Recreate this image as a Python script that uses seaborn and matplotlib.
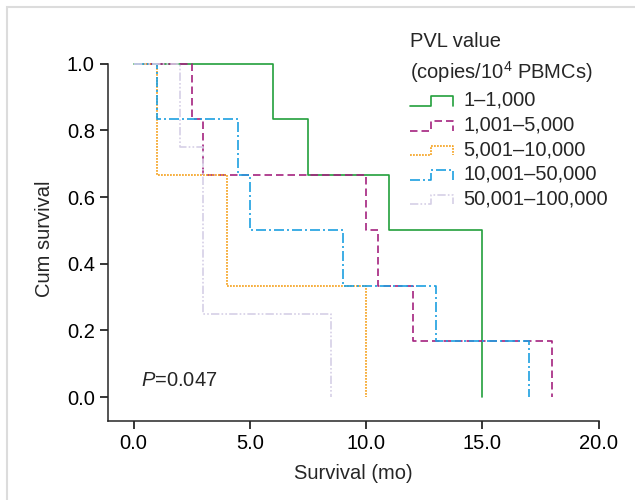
import numpy as np
import pandas as pd
import seaborn as sns
import matplotlib.pyplot as plt
from matplotlib.lines import Line2D
from matplotlib.legend_handler import HandlerBase
from matplotlib.patches import Rectangle

# survival curves (time in months, cum survival after each event)
groups = ['1–1,000', '1,001–5,000', '5,001–10,000', '10,001–50,000', '50,001–100,000']
t_g1 = [0, 6, 7.5, 11, 15]
s_g1 = [1.0, 0.833, 0.667, 0.5, 0.0]
t_g2 = [0, 2.5, 3, 10, 10.5, 12, 18]
s_g2 = [1.0, 0.833, 0.667, 0.5, 0.333, 0.167, 0.0]
t_g3 = [0, 1, 4, 10]
s_g3 = [1.0, 0.667, 0.333, 0.0]
t_g4 = [0, 1, 4.5, 5, 9, 13, 17]
s_g4 = [1.0, 0.833, 0.667, 0.5, 0.333, 0.167, 0.0]
t_g5 = [0, 2, 3, 8.5]
s_g5 = [1.0, 0.75, 0.25, 0.0]
p_text = '$P$=0.047'

colors = ['#23a03c', '#a4227f', '#f5a21f', '#1c9fe0', '#d6cfe6']
dashes = ['', (4.5, 2.4), (1.1, 0.7), (6, 1.8, 1.2, 1.8), (5, 1.3, 1, 1.3, 1, 1.3)]

times = [t_g1, t_g2, t_g3, t_g4, t_g5]
survs = [s_g1, s_g2, s_g3, s_g4, s_g5]
df = pd.concat([pd.DataFrame({'time': t, 'surv': s, 'group': g})
                for g, t, s in zip(groups, times, survs)], ignore_index=True)

sns.set_style('ticks')
plt.rcParams['font.family'] = ['Liberation Sans', 'DejaVu Sans']
plt.rcParams['mathtext.fontset'] = 'custom'
plt.rcParams['mathtext.rm'] = 'Liberation Sans'
plt.rcParams['mathtext.it'] = 'Liberation Sans:italic'
FS = 14.5


class StepHandler(HandlerBase):
    def create_artists(self, legend, orig_handle, xdescent, ydescent,
                       width, height, fontsize, trans):
        x0, y0 = -xdescent, -ydescent
        h = height * 0.68
        xs = [x0, x0 + 0.5 * width, x0 + 0.5 * width, x0 + width, x0 + width]
        ys = [y0, y0, y0 + h, y0 + h, y0]
        ln = Line2D(xs, ys)
        self.update_prop(ln, orig_handle, legend)
        ln.set_transform(trans)
        return [ln]


fig = plt.figure(figsize=(6.35, 5), dpi=100)
ax = fig.add_axes([0.170, 0.159, 0.773, 0.727])

sns.lineplot(data=df, x='time', y='surv', hue='group', style='group',
             hue_order=groups, style_order=groups,
             palette=dict(zip(groups, colors)), dashes=dict(zip(groups, dashes)),
             estimator=None, sort=False, drawstyle='steps-post',
             linewidth=1.2, legend=False, ax=ax)
for ln in ax.get_lines():
    ln.set_clip_on(False)

ax.set_xlim(-1.1, 20)
ax.set_ylim(-0.07, 1.02)
ax.set_xticks([0, 5, 10, 15, 20])
ax.set_xticklabels(['0.0', '5.0', '10.0', '15.0', '20.0'])
ax.set_yticks([0, 0.2, 0.4, 0.6, 0.8, 1.0])
ax.set_yticklabels(['0.0', '0.2', '0.4', '0.6', '0.8', '1.0'])
ax.spines['left'].set_bounds(-0.07, 1.0)
ax.spines['right'].set_visible(False)
ax.spines['top'].set_visible(False)
for sp in ['left', 'bottom']:
    ax.spines[sp].set_linewidth(1.1)
ax.tick_params(direction='out', length=5.5, width=1.1, labelsize=FS, pad=4,
               colors='black')
ax.set_xlabel('Survival (mo)', fontsize=FS, labelpad=8)
ax.set_ylabel('Cum survival', fontsize=FS, labelpad=9)

ax.text(0.3, 0.05, p_text, fontsize=FS, va='center', ha='left')

handles = ax.get_lines()[:len(groups)]
leg = ax.legend(handles, groups, handler_map={Line2D: StepHandler()},
                title='PVL value\n(copies/10$^4$ PBMCs)', fontsize=FS,
                title_fontsize=FS, frameon=False, loc='upper left',
                bbox_to_anchor=(0.616, 1.0685), handlelength=2.1,
                handletextpad=0.55, labelspacing=0.28, borderaxespad=0,
                borderpad=0)
leg._legend_box.align = 'left'
leg.get_title().set_linespacing(1.42)

fig.patches.append(Rectangle((7 / 635, -0.5), 1.5, 1.486, transform=fig.transFigure,
                             fill=False, edgecolor='#dcdcdc', linewidth=1.5))

fig.savefig('out.png', dpi=100)
